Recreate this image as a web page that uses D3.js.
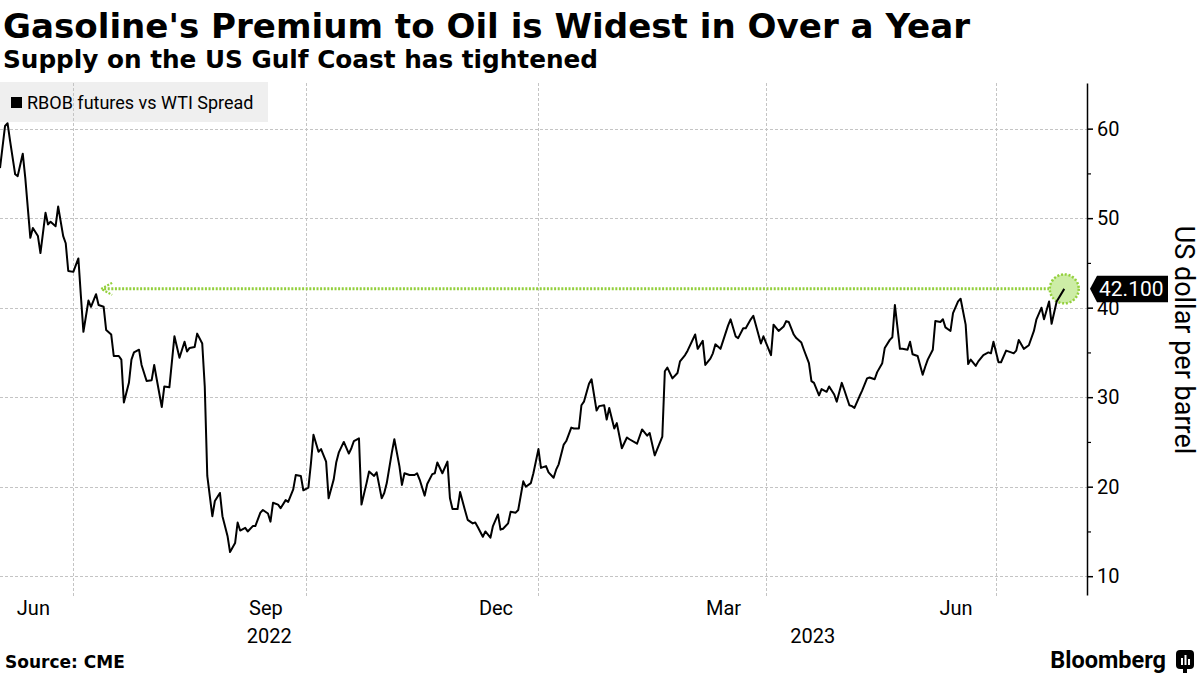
<!DOCTYPE html>
<html>
<head>
<meta charset="utf-8">
<script src="https://cdn.jsdelivr.net/npm/d3@7"></script>
<style>
  html, body { margin: 0; padding: 0; background: #fff; }
  svg { display: block; }
</style>
</head>
<body>
<svg id="chart" width="1200" height="675"></svg>
<script>
// ---------------- DATA ----------------
const title = "Gasoline's Premium to Oil is Widest in Over a Year";
const subtitle = "Supply on the US Gulf Coast has tightened";
const seriesName = "RBOB futures vs WTI Spread";
const yAxisTitle = "US dollar per barrel";
const sourceText = "Source: CME";
const lastValueLabel = "42.100";

const dates = [
  "2022-06-02","2022-06-04","2022-06-05","2022-06-06","2022-06-08","2022-06-09","2022-06-11","2022-06-12","2022-06-14","2022-06-15",
  "2022-06-17","2022-06-18","2022-06-20","2022-06-21","2022-06-22","2022-06-24","2022-06-25","2022-06-27","2022-06-28","2022-06-29",
  "2022-07-01","2022-07-03","2022-07-04","2022-07-05","2022-07-07","2022-07-08","2022-07-10","2022-07-11","2022-07-13","2022-07-14",
  "2022-07-16","2022-07-17","2022-07-19","2022-07-20","2022-07-21","2022-07-23","2022-07-24","2022-07-25","2022-07-27","2022-07-28","2022-07-30",
  "2022-08-01","2022-08-02","2022-08-03","2022-08-05","2022-08-06","2022-08-08","2022-08-10","2022-08-12","2022-08-14","2022-08-15",
  "2022-08-16","2022-08-18","2022-08-19","2022-08-21","2022-08-22","2022-08-23","2022-08-25","2022-08-26","2022-08-28","2022-08-29","2022-08-31",
  "2022-09-01","2022-09-03","2022-09-04","2022-09-05","2022-09-07","2022-09-08","2022-09-10","2022-09-11","2022-09-13","2022-09-14",
  "2022-09-16","2022-09-17","2022-09-18","2022-09-20","2022-09-21","2022-09-23","2022-09-24","2022-09-26","2022-09-27","2022-09-29","2022-09-30",
  "2022-10-02","2022-10-03","2022-10-04","2022-10-06","2022-10-07","2022-10-09","2022-10-10","2022-10-12","2022-10-13","2022-10-14",
  "2022-10-16","2022-10-18","2022-10-19","2022-10-20","2022-10-22","2022-10-23","2022-10-25","2022-10-26","2022-10-28","2022-10-29","2022-10-31",
  "2022-11-01","2022-11-02","2022-11-04","2022-11-05","2022-11-07","2022-11-08","2022-11-09","2022-11-11","2022-11-13","2022-11-14",
  "2022-11-15","2022-11-17","2022-11-18","2022-11-20","2022-11-21","2022-11-22","2022-11-24","2022-11-26","2022-11-27","2022-11-28","2022-11-30",
  "2022-12-01","2022-12-03","2022-12-04","2022-12-06","2022-12-07","2022-12-08","2022-12-10","2022-12-11","2022-12-13","2022-12-14",
  "2022-12-16","2022-12-17","2022-12-18","2022-12-20","2022-12-21","2022-12-23","2022-12-24","2022-12-26","2022-12-27","2022-12-29","2022-12-30",
  "2023-01-01","2023-01-02","2023-01-04","2023-01-05","2023-01-07","2023-01-08","2023-01-09","2023-01-11","2023-01-12","2023-01-14","2023-01-15",
  "2023-01-17","2023-01-18","2023-01-19","2023-01-21","2023-01-22","2023-01-24","2023-01-25","2023-01-27","2023-01-28","2023-01-29","2023-01-31",
  "2023-02-01","2023-02-03","2023-02-05","2023-02-06","2023-02-09","2023-02-11","2023-02-13","2023-02-14","2023-02-16","2023-02-19",
  "2023-02-20","2023-02-21","2023-02-23","2023-02-25","2023-02-26","2023-02-28",
  "2023-03-01","2023-03-04","2023-03-05","2023-03-07","2023-03-08","2023-03-10","2023-03-11","2023-03-12","2023-03-14","2023-03-17",
  "2023-03-18","2023-03-20","2023-03-21","2023-03-23","2023-03-24","2023-03-26","2023-03-27","2023-03-30","2023-03-31",
  "2023-04-03","2023-04-04","2023-04-06","2023-04-08","2023-04-09","2023-04-10","2023-04-12","2023-04-13","2023-04-15","2023-04-16",
  "2023-04-18","2023-04-19","2023-04-20","2023-04-22","2023-04-23","2023-04-25","2023-04-26","2023-04-28","2023-04-29",
  "2023-05-01","2023-05-02","2023-05-04","2023-05-05","2023-05-06","2023-05-08","2023-05-09","2023-05-11","2023-05-12","2023-05-14","2023-05-15",
  "2023-05-17","2023-05-18","2023-05-20","2023-05-21","2023-05-22","2023-05-24","2023-05-25","2023-05-27","2023-05-28","2023-05-29","2023-05-31",
  "2023-06-02","2023-06-03","2023-06-04","2023-06-06","2023-06-07","2023-06-09","2023-06-10","2023-06-11","2023-06-13","2023-06-14",
  "2023-06-16","2023-06-17","2023-06-19","2023-06-20","2023-06-21","2023-06-23","2023-06-24","2023-06-26","2023-06-28","2023-06-29","2023-06-30",
  "2023-07-02","2023-07-03","2023-07-05","2023-07-07","2023-07-08","2023-07-09","2023-07-10","2023-07-12","2023-07-14","2023-07-16",
  "2023-07-17","2023-07-19","2023-07-20","2023-07-22","2023-07-23","2023-07-25","2023-07-28"
];

const values = [
  55.6,60.3,60.6,58.6,54.9,54.7,57.2,54.5,47.8,48.9,
  48.0,46.1,50.6,49.3,49.6,49.1,51.3,48.0,47.2,44.1,
  44.0,45.5,41.3,37.3,40.8,40.1,41.5,40.3,40.1,37.5,
  37.0,34.6,34.6,34.2,29.4,31.6,34.2,35.0,35.3,33.6,31.8,
  31.9,33.6,32.0,28.9,31.2,31.1,36.8,34.4,36.2,35.1,
  35.5,35.6,37.1,36.0,31.2,21.2,16.7,18.4,19.3,16.7,14.5,
  12.7,13.7,16.0,15.1,15.4,15.0,15.6,15.6,17.1,17.4,
  17.0,16.1,18.2,18.0,17.6,18.5,18.3,19.7,21.3,21.2,19.6,
  19.9,22.6,25.8,23.9,24.2,22.8,18.7,20.8,22.7,23.8,
  25.0,23.7,24.3,25.1,25.4,18.0,20.4,21.7,21.2,21.6,18.7,
  19.3,20.4,23.8,25.3,22.3,20.2,21.5,21.3,21.3,21.5,
  20.8,19.0,20.3,21.4,21.5,22.7,21.5,22.8,18.7,17.5,17.5,
  19.4,17.3,16.3,15.9,16.0,15.5,14.4,15.0,14.3,15.6,
  16.9,15.2,15.3,15.9,17.2,17.1,17.4,20.6,20.0,20.4,21.5,
  24.2,22.1,22.3,21.6,21.0,21.9,22.5,24.7,25.1,26.6,26.5,
  26.5,29.1,29.5,31.5,32.0,28.5,29.0,29.1,27.5,28.8,26.5,
  27.1,24.3,25.5,25.3,24.8,26.4,25.7,26.0,23.5,25.6,
  32.9,33.3,32.1,32.7,34.0,34.7,
  35.2,37.0,35.4,36.3,33.6,34.3,34.9,35.9,35.4,38.0,
  38.7,36.8,36.6,37.7,37.7,38.7,39.1,36.0,36.8,
  34.7,38.1,37.4,37.9,38.5,38.4,37.0,36.6,36.1,35.3,
  33.8,31.8,31.6,30.2,30.9,30.6,31.2,30.3,29.5,
  31.6,30.8,29.1,29.0,28.8,30.1,30.7,32.1,32.2,32.0,32.8,
  33.8,35.5,36.4,36.7,40.3,35.4,35.4,35.3,36.2,34.8,34.6,
  32.5,33.4,34.2,35.3,38.5,38.4,38.7,37.8,37.4,39.4,
  40.7,41.0,38.1,33.7,34.2,33.5,34.0,34.7,35.0,34.9,36.2,
  33.9,33.9,35.2,35.0,34.9,35.2,36.4,35.4,35.8,37.4,
  38.7,40.0,38.7,40.7,38.2,40.7,42.1
];

const xDomain = ["2022-06-02", "2023-08-06"];
const yDomain = [7.9, 65.1];
const yTicks = [10, 20, 30, 40, 50, 60];
const yMinorTicks = [15, 25, 35, 45, 55];
const gridDates = ["2022-07-01", "2022-10-01", "2023-01-01", "2023-04-01", "2023-07-01"];
const monthTickDates = ["2022-06-15", "2022-09-15", "2022-12-15", "2023-03-15", "2023-06-15"];
const monthTickLabels = ["Jun", "Sep", "Dec", "Mar", "Jun"];
const yearLabels = ["2022", "2023"];
const yearStarts = ["2022-01-01", "2023-01-01"];
const yearEnds = ["2023-01-01", "2024-01-01"];
const annotationStart = "2022-07-12";

// ---------------- CHART ----------------
const parse = d3.timeParse("%Y-%m-%d");
const data = dates.map((d, i) => ({ date: parse(d), value: values[i] }));

const svg = d3.select("#chart");
svg.append("rect").attr("width", 1200).attr("height", 675).attr("fill", "#fff");

const plotLeft = 0, plotRight = 1087, plotTop = 83, plotBottom = 595;

const x = d3.scaleTime().domain(xDomain.map(parse)).range([plotLeft, plotRight]);
const y = d3.scaleLinear().domain(yDomain).range([plotBottom, plotTop]);

// Title + subtitle
svg.append("text").attr("x", 3).attr("y", 38)
  .attr("font-family", "DejaVu Sans").attr("font-weight", "bold").attr("font-size", 34)
  .attr("textLength", 967).attr("lengthAdjust", "spacingAndGlyphs")
  .attr("fill", "#000").text(title);
svg.append("text").attr("x", 3).attr("y", 68)
  .attr("font-family", "DejaVu Sans").attr("font-weight", "bold").attr("font-size", 24)
  .attr("textLength", 595).attr("lengthAdjust", "spacingAndGlyphs")
  .attr("fill", "#000").text(subtitle);

// Legend box
const legend = svg.append("g");
legend.append("rect").attr("x", 0).attr("y", 82).attr("width", 268).attr("height", 40).attr("fill", "#efefef");
legend.append("rect").attr("x", 11).attr("y", 97).attr("width", 11).attr("height", 11).attr("fill", "#000");
legend.append("text").attr("x", 27).attr("y", 109)
  .attr("font-family", "Roboto").attr("font-size", 18).attr("fill", "#000").text(seriesName);

// Grid lines
const grid = svg.append("g").attr("stroke", "#c4c4c4").attr("stroke-width", 1).attr("stroke-dasharray", "3,2");
grid.selectAll(".hg").data(yTicks).join("line")
  .attr("x1", plotLeft).attr("x2", plotRight)
  .attr("y1", d => Math.round(y(d)) + 0.5).attr("y2", d => Math.round(y(d)) + 0.5);
grid.selectAll(".vg").data(gridDates.map(parse)).join("line")
  .attr("x1", d => Math.round(x(d)) + 0.5).attr("x2", d => Math.round(x(d)) + 0.5)
  .attr("y1", plotTop).attr("y2", plotBottom + 2);

// Y axis (right)
const yAxis = d3.axisRight(y).tickValues(yTicks).tickSize(6).tickSizeOuter(0).tickPadding(4).tickFormat(d3.format("d"));
const yg = svg.append("g").attr("transform", `translate(${plotRight},0)`).call(yAxis);
yg.select(".domain").attr("stroke", "#000").attr("stroke-width", 1.5);
yg.selectAll(".tick line").attr("stroke", "#000").attr("stroke-width", 1.5);
yg.selectAll(".tick text").attr("font-family", "Roboto").attr("font-size", 20).attr("fill", "#000");
const yMinor = d3.axisRight(y).tickValues(yMinorTicks).tickSize(4).tickSizeOuter(0).tickFormat("");
const ym = svg.append("g").attr("transform", `translate(${plotRight},0)`).call(yMinor);
ym.select(".domain").remove();
ym.selectAll(".tick line").attr("stroke", "#000").attr("stroke-width", 1.2);

// Y axis title
svg.append("text")
  .attr("transform", "translate(1184,340) rotate(90)")
  .attr("text-anchor", "middle").attr("dy", "0.35em")
  .attr("font-family", "Roboto").attr("font-size", 27).attr("fill", "#000")
  .text(yAxisTitle);

// X axis month labels
const xAxis = d3.axisBottom(x).tickValues(monthTickDates.map(parse)).tickSize(0).tickPadding(6)
  .tickFormat((d, i) => monthTickLabels[i]);
const xg = svg.append("g").attr("transform", `translate(0,${plotBottom})`).call(xAxis);
xg.select(".domain").remove();
xg.selectAll(".tick text").attr("font-family", "Roboto").attr("font-size", 20).attr("fill", "#000");

// Year labels centered over visible portion of each year
yearLabels.forEach((lab, i) => {
  const a = Math.max(plotLeft, x(parse(yearStarts[i])));
  const b = Math.min(plotRight, x(parse(yearEnds[i])));
  svg.append("text").attr("x", (a + b) / 2).attr("y", 643)
    .attr("text-anchor", "middle").attr("font-family", "Roboto").attr("font-size", 20)
    .attr("fill", "#000").text(lab);
});

// Annotation: dotted line at last value + arrow
const last = data[data.length - 1];
const ly = y(last.value);
const ax = x(parse(annotationStart));
const green = "#93cf3c";
svg.append("line")
  .attr("x1", ax + 3).attr("x2", x(last.date) - 15)
  .attr("y1", ly).attr("y2", ly)
  .attr("stroke", green).attr("stroke-width", 3).attr("stroke-dasharray", "2,1.6");
svg.append("path")
  .attr("d", `M${ax + 11},${ly - 6} L${ax},${ly} L${ax + 11},${ly + 6}`)
  .attr("fill", "none").attr("stroke", green).attr("stroke-width", 2.2).attr("stroke-dasharray", "2,1.5");

// Circle highlight
svg.append("circle").attr("cx", x(last.date)).attr("cy", ly).attr("r", 14.5)
  .attr("fill", "#cdeda6").attr("stroke", green).attr("stroke-width", 2.5).attr("stroke-dasharray", "2,1.8");

// Series line
const line = d3.line().x(d => x(d.date)).y(d => y(d.value));
svg.append("path").datum(data)
  .attr("d", line)
  .attr("fill", "none").attr("stroke", "#000").attr("stroke-width", 2)
  .attr("stroke-linejoin", "round");

// Last value label
const lb = svg.append("g");
const bx = plotRight + 3;
lb.append("path")
  .attr("d", `M${bx},${ly} L${bx + 7},${ly - 13} L${bx + 78},${ly - 13} L${bx + 78},${ly + 13.5} L${bx + 7},${ly + 13.5} Z`)
  .attr("fill", "#000");
lb.append("text").attr("x", bx + 9).attr("y", ly + 7.5)
  .attr("font-family", "Roboto").attr("font-size", 21).attr("fill", "#fff").text(lastValueLabel);

// Footer
svg.append("text").attr("x", 5).attr("y", 668)
  .attr("font-family", "DejaVu Sans").attr("font-weight", "bold").attr("font-size", 17)
  .attr("fill", "#000").text(sourceText);
svg.append("text").attr("x", 1166).attr("y", 668).attr("text-anchor", "end")
  .attr("font-family", "Roboto").attr("font-weight", "bold").attr("font-size", 23.5)
  .attr("fill", "#000").text("Bloomberg");
const logo = svg.append("g").attr("transform", "translate(1176,650)");
logo.append("rect").attr("width", 18).attr("height", 19).attr("rx", 4).attr("fill", "#000");
logo.append("rect").attr("x", 5).attr("y", 8).attr("width", 2).attr("height", 7).attr("fill", "#fff");
logo.append("rect").attr("x", 8.5).attr("y", 5).attr("width", 2).attr("height", 10).attr("fill", "#fff");
logo.append("rect").attr("x", 12).attr("y", 9).attr("width", 2).attr("height", 6).attr("fill", "#fff");
logo.append("rect").attr("x", 7).attr("y", 19).attr("width", 4).attr("height", 4).attr("fill", "#000");
</script>
</body>
</html>
